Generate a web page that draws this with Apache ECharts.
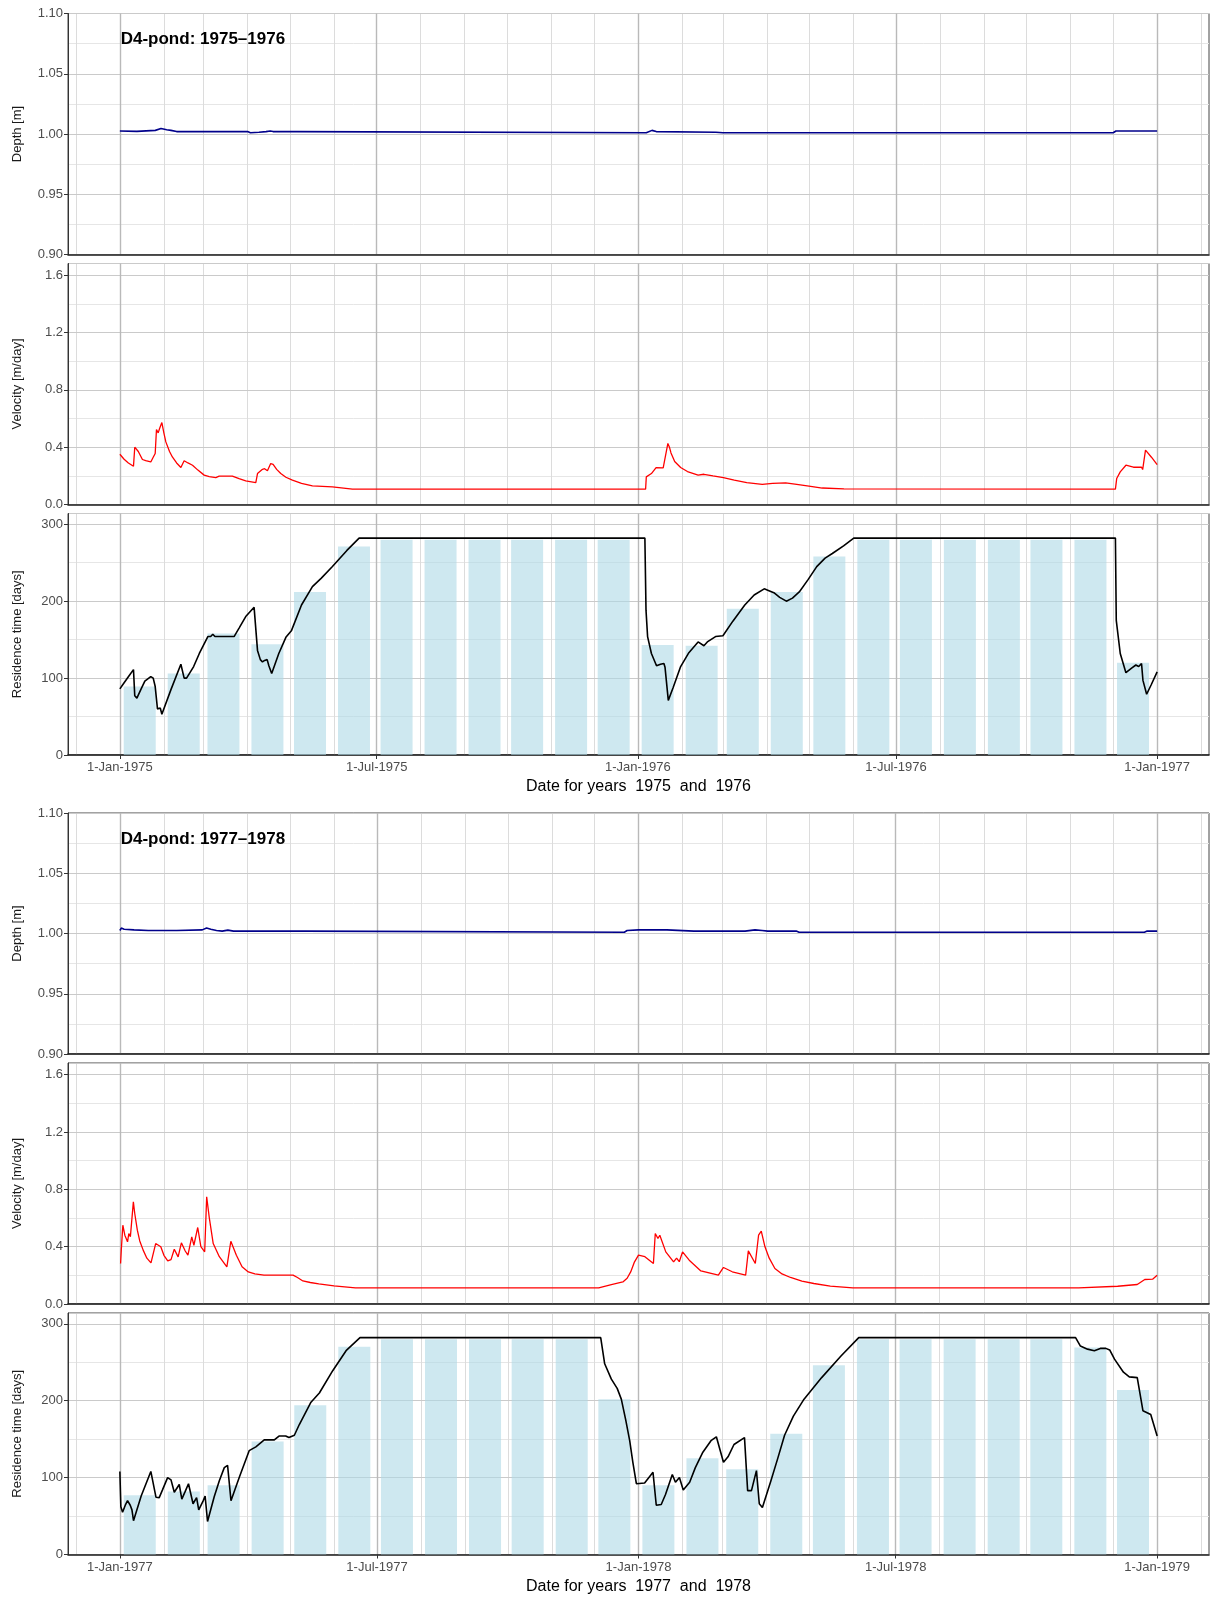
<!DOCTYPE html>
<html><head><meta charset="utf-8">
<script src="https://cdn.jsdelivr.net/npm/echarts@6.0.0/dist/echarts.min.js"></script>
<style>html,body{margin:0;padding:0;background:#fff}#c{width:1210px;height:1598px}</style>
</head><body><div id="c"></div>
<script>
// ---------- Block 1: 1975-1976 (x = days since 1-Jan-1975) ----------
const tickDays75 = [0, 181, 365, 547, 731];
const tickLabels75 = ['1-Jan-1975', '1-Jul-1975', '1-Jan-1976', '1-Jul-1976', '1-Jan-1977'];
const depth75Days = [0, 12, 13, 25, 29, 33, 36, 40, 52, 90, 92, 98, 103, 106, 108, 125, 126, 371, 372, 375, 378, 420, 425, 700, 702, 731];
const depth75 = [1.0025, 1.0022, 1.003, 1.003, 1.0045, 1.0035, 1.003, 1.002, 1.002, 1.002, 1.001, 1.0015, 1.002, 1.0025, 1.002, 1.002, 1.001, 1.001, 1.0025, 1.003, 1.002, 1.0015, 1.001, 1.001, 1.0025, 1.0025];
const vel75Days = [0, 3, 6, 9.6, 10.5, 11, 13, 15.9, 18.2, 21.8, 23.5, 24.9, 25.8, 27, 28, 29.6, 31, 32.4, 35, 37, 40, 43, 45.3, 48, 51.2, 55, 59.4, 63, 67.6, 70, 79.3, 84, 88.7, 95.8, 97, 100.5, 102, 104, 106.3, 108, 110.5, 113.4, 117, 121.6, 128, 135.7, 149.8, 163.9, 370.5, 371, 374.6, 377.9, 382.9, 384, 386.2, 387.3, 388.4, 391, 395.2, 400, 407.5, 411.6, 418, 425.3, 433, 441.8, 452.7, 460, 469.2, 477, 485.6, 495, 510.3, 701.6, 702.5, 705, 709, 714.3, 720, 720.8, 722.8, 723.6, 727, 731];
const vel75 = [0.351, 0.316, 0.29, 0.267, 0.40, 0.41, 0.37, 0.314, 0.306, 0.297, 0.33, 0.356, 0.523, 0.50, 0.53, 0.572, 0.50, 0.437, 0.37, 0.332, 0.29, 0.258, 0.305, 0.29, 0.274, 0.24, 0.205, 0.195, 0.188, 0.198, 0.198, 0.18, 0.165, 0.153, 0.216, 0.246, 0.25, 0.236, 0.286, 0.28, 0.245, 0.216, 0.19, 0.170, 0.148, 0.130, 0.123, 0.107, 0.107, 0.193, 0.216, 0.258, 0.256, 0.244, 0.426, 0.40, 0.36, 0.30, 0.258, 0.23, 0.205, 0.211, 0.20, 0.188, 0.17, 0.153, 0.14, 0.148, 0.151, 0.14, 0.128, 0.115, 0.109, 0.107, 0.181, 0.228, 0.274, 0.26, 0.26, 0.244, 0.379, 0.391, 0.33, 0.279];
const res75Days = [0, 3, 6.5, 9.6, 10.5, 12, 15, 17.6, 21.8, 23.5, 24.9, 26.5, 27.7, 28.5, 29.6, 36, 43, 45.3, 47, 52, 56, 62, 64, 65.5, 67, 80.5, 84, 88.7, 94.6, 95.8, 97, 99, 100.5, 102, 103.8, 105, 107, 112, 117, 121, 128, 135.7, 142, 149.8, 160, 168.6, 370, 370.8, 371.9, 374.6, 378.2, 381, 383.4, 384.2, 386.5, 390, 395.2, 401, 407.5, 411.6, 414, 419.8, 425, 432, 440.4, 447, 454.1, 457, 460.9, 465, 469.7, 474, 478.8, 485, 491.1, 497, 502.1, 510, 517.2, 701.6, 702.2, 705, 709, 713, 716, 718, 720, 721, 723.6, 727, 731];
const res75 = [86, 94, 103, 111, 77, 74, 86, 96, 102, 100, 89, 60, 58, 61, 53, 85, 118, 100, 100, 115, 132, 154, 154, 157, 154, 154, 165, 180, 192, 193, 136, 124, 121, 123, 124, 116, 106, 132, 153, 162, 195, 219, 230, 245, 266, 282, 282, 188, 154, 132, 116, 118, 119, 114, 71, 88, 115, 133, 147, 142, 147, 154, 155, 174, 195, 208, 216, 214, 211, 205, 200, 204, 212, 228, 245, 256, 262, 272, 282, 282, 175, 132, 107, 113, 117, 115, 119, 97, 79, 92, 108];
const bars75 = [89, 106, 158, 144, 212, 271, 280, 280, 280, 280, 280, 280, 143, 142, 190, 212, 258, 280, 280, 280, 280, 280, 280, 120];

// ---------- Block 2: 1977-1978 (x = days since 1-Jan-1977) ----------
const tickDays77 = [0, 181, 365, 546, 730];
const tickLabels77 = ['1-Jan-1977', '1-Jul-1977', '1-Jan-1978', '1-Jul-1978', '1-Jan-1979'];
const depth77Days = [0, 1, 3, 10, 20, 40, 58, 61, 64, 68, 72, 76, 80, 130, 131, 355, 357, 365, 385, 404, 440, 447, 452, 456, 476, 478, 721, 723, 730];
const depth77 = [1.0025, 1.0045, 1.0035, 1.003, 1.0025, 1.0025, 1.003, 1.0045, 1.0035, 1.0025, 1.002, 1.0028, 1.002, 1.002, 1.001, 1.001, 1.0025, 1.003, 1.003, 1.002, 1.002, 1.003, 1.0025, 1.002, 1.002, 1.001, 1.001, 1.002, 1.002];
const vel77Days = [0.5, 1, 2.1, 3.5, 5.4, 6.3, 7.4, 9.5, 10.5, 12.3, 14, 16.4, 19, 21.9, 25.2, 28.8, 31, 33.7, 36, 38.3, 41, 43.3, 46, 47.9, 50.6, 52.1, 54.8, 57, 59.7, 61.1, 63, 65.7, 70, 75.3, 78.1, 82, 86, 90.4, 95, 101.4, 121.9, 125, 128.8, 134, 140, 150.7, 165.8, 337, 345.9, 354, 357, 359.5, 362, 365, 369.5, 375.5, 376.8, 378.7, 380, 384.2, 389.7, 391.8, 393.7, 396, 400.7, 408.9, 421.2, 424.8, 431, 440.4, 442.3, 447.2, 449.5, 451.4, 454, 457, 461, 466, 472, 480, 488.4, 500, 515.8, 674.8, 702.2, 716, 721.3, 726.8, 730];
const vel77 = [0.283, 0.376, 0.55, 0.48, 0.434, 0.492, 0.47, 0.713, 0.63, 0.515, 0.44, 0.376, 0.32, 0.287, 0.422, 0.40, 0.34, 0.301, 0.31, 0.382, 0.329, 0.427, 0.37, 0.341, 0.469, 0.41, 0.534, 0.40, 0.364, 0.748, 0.597, 0.422, 0.33, 0.259, 0.438, 0.34, 0.26, 0.224, 0.21, 0.201, 0.201, 0.185, 0.161, 0.15, 0.14, 0.126, 0.112, 0.112, 0.136, 0.154, 0.18, 0.224, 0.29, 0.341, 0.33, 0.283, 0.492, 0.457, 0.48, 0.364, 0.294, 0.32, 0.295, 0.364, 0.306, 0.231, 0.201, 0.255, 0.225, 0.201, 0.371, 0.283, 0.48, 0.508, 0.399, 0.32, 0.248, 0.21, 0.185, 0.16, 0.143, 0.125, 0.112, 0.112, 0.124, 0.136, 0.171, 0.173, 0.201];
const res77Days = [0, 0.7, 1.9, 4, 5.4, 7.3, 8.5, 9.6, 15, 21.8, 25.4, 27.7, 30, 33.6, 36, 38.3, 41.8, 43.6, 46, 48.3, 51.5, 54, 55.5, 58.7, 60, 61.7, 66.4, 70, 73.5, 75.8, 78.2, 84, 91, 95.7, 101.6, 108.7, 112, 116.7, 119, 122.8, 126.3, 134.5, 140.4, 149.8, 159.2, 169, 338.4, 341.2, 345.9, 350, 352.9, 356, 358.8, 361, 363.5, 369.3, 375.2, 377.5, 381, 384, 388.8, 391, 393.8, 396.5, 401, 405, 410.3, 416, 419.8, 421, 424.8, 428, 432.2, 439.6, 441.8, 444.5, 448, 450, 452.2, 458.2, 463, 467.8, 474, 481.5, 493.9, 507.5, 520, 672.6, 676, 681, 685.8, 690, 693.9, 696.6, 700, 706.3, 710.4, 716, 720, 725.5, 730];
const res77 = [108, 62, 55, 65, 70, 64, 58, 44, 76, 108, 74.5, 74, 84, 100, 97, 81, 91, 72, 82, 92, 66, 74, 58, 70, 76, 43, 75, 96, 113, 116, 70, 100, 135, 140, 149, 149, 154, 154, 152, 155, 169, 198, 210, 239, 265, 282, 282, 248, 228, 216, 202, 175, 148, 120, 92, 93, 107, 64, 65, 78, 104, 94, 100, 84, 94, 113, 133, 148, 153, 152, 120, 127, 143, 152, 83, 83, 109, 66, 61, 96, 125, 155, 180, 202, 230, 258, 282, 282, 271, 267, 265, 268, 268, 266, 254, 237, 231, 230, 187, 182, 154];
const bars77 = [77, 82, 90, 147, 194, 270, 280, 280, 280, 280, 280, 202, 90, 125, 111, 157, 246, 280, 280, 280, 280, 280, 269, 214];

// ---------- helpers ----------
const DAY = 86400000;
function dayOf(y0, y, m, d) { return Math.round((Date.UTC(y, m, d) - Date.UTC(y0, 0, 1)) / DAY); }
function pairs(xs, ys) { return xs.map((x, i) => [x, ys[i]]); }

const blocks = [
  { y0: 1975, title: 'D4-pond: 1975\u20131976', xname: 'Date for years  1975  and  1976', span: 731,
    tickDays: tickDays75, tickLabels: tickLabels75, depthX: depth75Days, depth: depth75,
    velX: vel75Days, vel: vel75, resX: res75Days, res: res75, bars: bars75 },
  { y0: 1977, title: 'D4-pond: 1977\u20131978', xname: 'Date for years  1977  and  1978', span: 730,
    tickDays: tickDays77, tickLabels: tickLabels77, depthX: depth77Days, depth: depth77,
    velX: vel77Days, vel: vel77, resX: res77Days, res: res77, bars: bars77 }
];

const LEFT = 68, WIDTH = 1141;
const panelTops = [13.5, 263.5, 513.5];
const panelH = [241, 241, 241.5];
const OFF = 799.5;
const yCfg = [
  { min: 0.9, max: 1.1, interval: 0.05, fmt: v => v.toFixed(2), name: 'Depth [m]', hideMax: false },
  { min: 0, max: 1.682, interval: 0.4, fmt: v => v.toFixed(1), name: 'Velocity [m/day]', hideMax: true },
  { min: 0, max: 314, interval: 100, fmt: v => String(Math.round(v)), name: 'Residence time [days]', hideMax: true }
];
const FONT = '"Liberation Sans", Arial, sans-serif';

const grid = [], xAxis = [], yAxis = [], series = [], graphic = [];

blocks.forEach((B, b) => {
  const o = b * OFF;
  const xmin = -0.05 * B.span, xmax = B.span * 1.05;
  const monthDays = [];
  for (let k = -2; k <= 26; k++) {
    const d = dayOf(B.y0, B.y0, k, 1);
    if (d > xmin && d < xmax) monthDays.push(d);
  }
  const barDays = B.bars.map((_, i) => dayOf(B.y0, B.y0, i, 15));
  for (let p = 0; p < 3; p++) {
    const gi = b * 3 + p;
    const top = panelTops[p] + o;
    grid.push({ left: LEFT, top: top, width: WIDTH, height: panelH[p], show: true, borderColor: '#444', borderWidth: 1, backgroundColor: 'transparent' });
    const C = yCfg[p];
    xAxis.push({
      type: 'value', gridIndex: gi, min: xmin, max: xmax, position: 'bottom', z: 1,
      axisLine: { show: true, onZero: false, lineStyle: { color: '#1a1a1a', width: 1.6 } },
      axisTick: { show: true, customValues: B.tickDays, length: p === 2 ? 4 : 0, lineStyle: { color: '#333' } },
      axisLabel: { show: p === 2, customValues: B.tickDays, color: '#4d4d4d', fontSize: 13, fontFamily: FONT, margin: 6,
        formatter: v => { const i = B.tickDays.indexOf(Math.round(v)); return i >= 0 ? B.tickLabels[i] : ''; } },
      splitLine: { show: true, lineStyle: { color: '#b9b9b9', width: 1.4 } }
    });
    xAxis.push({
      type: 'value', gridIndex: gi, min: xmin, max: xmax, position: 'top', z: 0,
      axisLine: { show: false, onZero: false }, axisTick: { show: true, length: 0, customValues: monthDays },
      axisLabel: { show: false, customValues: monthDays },
      splitLine: { show: true, lineStyle: { color: '#dcdcdc', width: 1 } }
    });
    yAxis.push({
      type: 'value', gridIndex: gi, min: C.min, max: C.max, interval: C.interval, position: 'left', z: 1,
      axisLine: { show: true, onZero: false, lineStyle: { color: '#333', width: 1 } },
      axisTick: { show: true, length: 4, lineStyle: { color: '#333' } },
      axisLabel: { color: '#4d4d4d', fontSize: 13, fontFamily: FONT, margin: 5, formatter: C.fmt, showMaxLabel: !C.hideMax },
      splitLine: { show: true, lineStyle: { color: '#cacaca', width: 1.2 } }
    });
    yAxis.push({
      type: 'value', gridIndex: gi, min: C.min, max: C.max, interval: C.interval / 2, position: 'left', z: 0,
      axisLine: { show: false, onZero: false }, axisTick: { show: false }, axisLabel: { show: false },
      splitLine: { show: true, lineStyle: { color: '#e6e6e6', width: 1 } }
    });
    graphic.push({ type: 'text', x: 17, y: top + panelH[p] / 2, rotation: Math.PI / 2, z: 100,
      style: { text: C.name, fontSize: 13, fontFamily: FONT, fill: '#1a1a1a', align: 'center', verticalAlign: 'middle' } });
    const xi = gi * 2, yi = gi * 2;
    if (p === 0) {
      series.push({ type: 'line', xAxisIndex: xi, yAxisIndex: yi, data: pairs(B.depthX, B.depth), showSymbol: false,
        lineStyle: { color: '#00008b', width: 1.6 }, itemStyle: { color: '#00008b' }, animation: false });
    } else if (p === 1) {
      series.push({ type: 'line', xAxisIndex: xi, yAxisIndex: yi, data: pairs(B.velX, B.vel), showSymbol: false,
        lineStyle: { color: '#ff0000', width: 1.3 }, itemStyle: { color: '#ff0000' }, animation: false });
    } else {
      series.push({ type: 'bar', xAxisIndex: xi, yAxisIndex: yi, data: pairs(barDays, B.bars), barWidth: 32,
        itemStyle: { color: 'rgba(173,216,230,0.6)' }, animation: false });
      series.push({ type: 'line', xAxisIndex: xi, yAxisIndex: yi, data: pairs(B.resX, B.res), showSymbol: false, z: 3,
        lineStyle: { color: '#000', width: 1.6 }, itemStyle: { color: '#000' }, animation: false });
    }
  }
  graphic.push({ type: 'text', x: 120.7, y: 39.5 + o, z: 100,
    style: { text: B.title, fontSize: 17, fontWeight: 'bold', fontFamily: FONT, fill: '#000', align: 'left', verticalAlign: 'middle' } });
  graphic.push({ type: 'text', x: LEFT + WIDTH / 2, y: 787 + o, z: 100,
    style: { text: B.xname, fontSize: 16, fontFamily: FONT, fill: '#000', align: 'center', verticalAlign: 'middle' } });
});

const chart = echarts.init(document.getElementById('c'), null, { renderer: 'canvas' });
chart.setOption({ animation: false, backgroundColor: '#fff', grid, xAxis, yAxis, series, graphic });
</script></body></html>
